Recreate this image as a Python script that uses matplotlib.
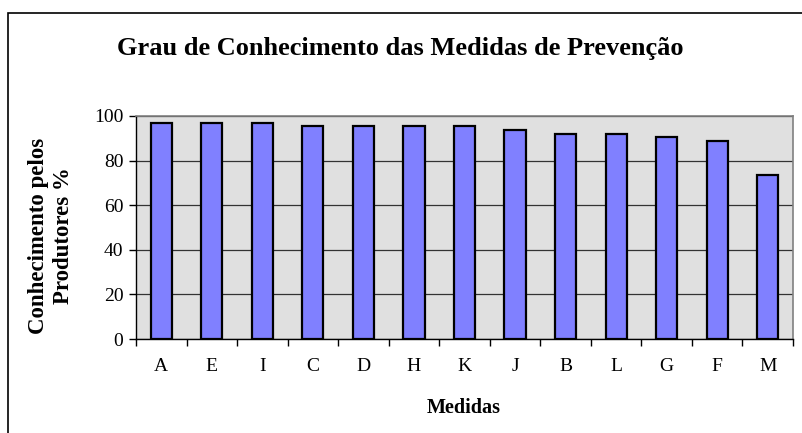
import numpy as np
import matplotlib.pyplot as plt
from matplotlib.patches import Rectangle

categories = ["A", "E", "I", "C", "D", "H", "K", "J", "B", "L", "G", "F", "M"]
values = [97, 97, 97, 95.5, 95.5, 95.5, 95.5, 93.5, 92, 92, 90.5, 89, 73.5]

plt.rcParams['font.family'] = ['Liberation Serif', 'DejaVu Serif']

fig = plt.figure(figsize=(8.02, 4.33), dpi=100)
ax = fig.add_axes([136 / 802, 1 - 339 / 433, 657 / 802, 223 / 433])

# outer frame (only top and left visible in the reference)
fig.patches.append(Rectangle((8 / 802, -0.1), 1.2, 1 - 13 / 433 + 0.1,
                             transform=fig.transFigure, fill=False,
                             edgecolor='black', linewidth=1.2))

x = np.arange(len(categories))
ax.set_facecolor('#e0e0e0')
ax.bar(x, values, width=0.42, color='#8080ff', edgecolor='black',
       linewidth=1.6, zorder=3)

ax.set_xlim(-0.5, len(categories) - 0.5)
ax.set_ylim(0, 100)
ax.set_yticks([0, 20, 40, 60, 80, 100])
ax.yaxis.grid(True, color='#333333', linewidth=0.9, zorder=0)

ax.set_xticks(x)
ax.set_xticklabels(categories, fontsize=14)
ax.set_xticks(np.arange(-0.5, len(categories), 1), minor=True)
ax.tick_params(axis='x', which='major', length=0, pad=14)
ax.tick_params(axis='x', which='minor', length=5, width=1, direction='out')
ax.tick_params(axis='y', labelsize=14, length=5, width=1, direction='out', pad=4)

for s in ['top', 'right']:
    ax.spines[s].set_color('#808080')
    ax.spines[s].set_linewidth(1.2)
for s in ['left', 'bottom']:
    ax.spines[s].set_color('black')
    ax.spines[s].set_linewidth(1.0)

fig.text(400 / 802, 1 - 48 / 433, "Grau de Conhecimento das Medidas de Prevenção",
         ha='center', va='center', fontsize=19, fontweight='bold')
fig.text(464 / 802, 1 - 408 / 433, "Medidas", ha='center', va='center',
         fontsize=14.5, fontweight='bold')
fig.text(51 / 802, 1 - 236 / 433, "Conhecimento pelos\nProdutores %",
         ha='center', va='center', rotation=90, fontsize=16.5,
         fontweight='bold', linespacing=1.2)

plt.savefig("out.png", dpi=100)
